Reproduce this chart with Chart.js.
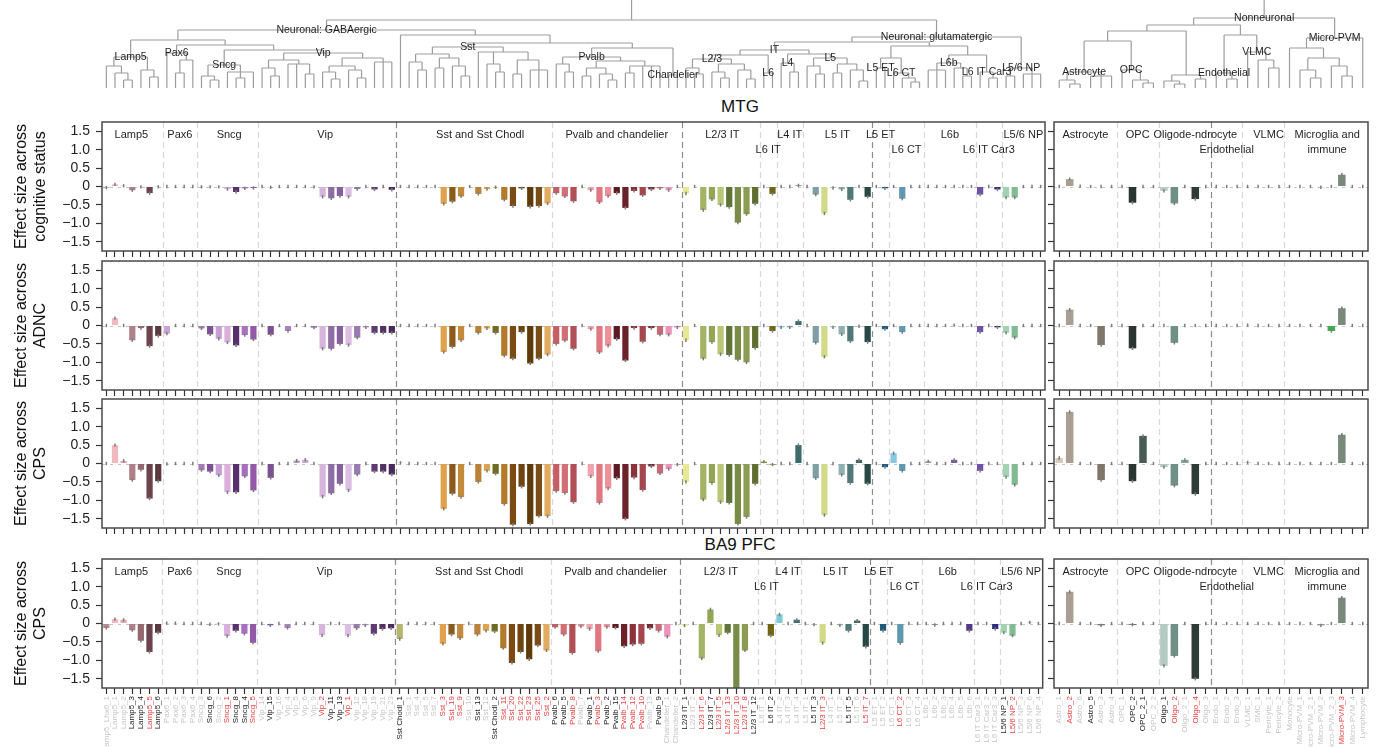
<!DOCTYPE html>
<html>
<head>
<meta charset="utf-8">
<script src="https://cdn.jsdelivr.net/npm/chart.js@4.4.1/dist/chart.umd.min.js"></script>
<style>
  body { margin: 0; background: #fff; width: 1380px; height: 747px; overflow: hidden; position: relative; font-family: 'Liberation Sans', Arial, sans-serif; }
  canvas { position: absolute; }
  .title { position: absolute; left: 640px; width: 200px; text-align: center; font-size: 17px; line-height: 20px; color: #111; }
</style>
</head>
<body>
<div class="title" style="top:97px">MTG</div>
<div class="title" style="top:535px">BA9 PFC</div>
<script>
// ---- categories ----
const NEURON_LABELS = [
  'Lamp5_Lhx6_1','Lamp5_1','Lamp5_2','Lamp5_3','Lamp5_4','Lamp5_5','Lamp5_6',
  'Pax6_1','Pax6_2','Pax6_3','Pax6_4',
  'Sncg_3','Sncg_6','Sncg_2','Sncg_1','Sncg_8','Sncg_4','Sncg_5',
  'Vip_14','Vip_15','Vip_16','Vip_4','Vip_5','Vip_6','Vip_9','Vip_2','Vip_11','Vip_13','Vip_1','Vip_12','Vip_18','Vip_19','Vip_21','Vip_23',
  'Sst Chodl_1','Sst_1','Sst_4','Sst_5','Sst_7','Sst_3','Sst_19','Sst_9','Sst_10','Sst_13','Sst_12','Sst Chodl_2','Sst_11','Sst_20','Sst_22','Sst_23','Sst_25','Sst_2',
  'Pvalb_6','Pvalb_5','Pvalb_8','Pvalb_7','Pvalb_1','Pvalb_3','Pvalb_2','Pvalb_15','Pvalb_14','Pvalb_12','Pvalb_10','Pvalb_13','Pvalb_9','Chandelier_1','Chandelier_2',
  'L2/3 IT_1','L2/3 IT_2','L2/3 IT_6','L2/3 IT_7','L2/3 IT_5','L2/3 IT_13','L2/3 IT_10','L2/3 IT_8','L2/3 IT_12',
  'L6 IT_1','L6 IT_2','L4 IT_2','L4 IT_3','L4 IT_4',
  'L5 IT_1','L5 IT_3','L2/3 IT_3','L4 IT_1','L5 IT_2','L5 IT_5','L5 IT_6','L5 IT_7',
  'L5 ET_1','L5 ET_2','L6 CT_1','L6 CT_2','L6 CT_3','L6 CT_4',
  'L6b_1','L6b_2','L6b_3','L6b_4','L6b_5','L6b_6',
  'L6 IT Car3_1','L6 IT Car3_2','L6 IT Car3_3',
  'L5/6 NP_1','L5/6 NP_2','L5/6 NP_3','L5/6 NP_6','L5/6 NP_4'
];
// r = significant (red), k = nominal (black), g = not significant (grey)
const NEURON_STATUS = ('gggkkrk' + 'gggg' + 'gkgrkkr' + 'gkgggggrkkrggggg' + 'kggggrrrgkgkrrrrrr' +
  'kkrgkrkkrrrgkgg' + 'kgrkrrrrk' + 'gkggg' + 'gkrggkgr' + 'gggrgg' + 'gggggg' + 'ggg' + 'krggg').split('');
const NEURON_COLORS = [
  '#b58a8a','#f2b8c0','#e9a3ad','#b0808a','#94686e','#6b434a','#5a3a40',
  '#c9a3d6','#b9a0c8','#a98fc0','#9c82b4',
  '#a77bb5','#7c4f96','#c89fd4','#d9b0dc','#5a2f6e','#a96fbf','#9159a8',
  '#c6a0d0','#7a5191','#b48cc4','#a784bd','#b995c9','#c7a9d6','#9d78b0','#d6b4dc','#8e6ca4','#85609c','#dbbfe2','#9a78b0','#b08ac0','#5f3b74','#533066','#4a2a5e',
  '#b5b56e','#d9aa6a','#c89a5a','#b7894a','#a67a3e','#e0a24d','#8a5a1c','#c58b3d','#d29a4c','#b98238','#dba552','#6e6b22','#b37a2c','#7a4a12','#6e4510','#5e3a08','#7a4b14','#e2ac60',
  '#c45f66','#d26f76','#b24e56','#e88b92','#f2a3aa','#df7881','#ee9098','#5e1a22','#6b2128','#8c323a','#a5464e','#7a2a32','#c56878','#e994b8','#e576a8',
  '#e6e896','#cfd68a','#a3b464','#93a656','#bac575','#5f7537','#788c47','#8c9c52','#5d6e2e',
  '#8e8a2a','#6e6616','#7fcad4','#73b1b8','#3d6b6b',
  '#86a9ae','#7e9fa6','#d0da88','#a6c8c8','#8fb1b1','#4f7878','#3e6666','#284846',
  '#184e6e','#1f5a7a','#86c8e2','#5f98b0','#72a9c0','#82b3c8',
  '#b092c8','#9a7cb8','#8a6aa8','#7a5aa0','#684896','#56368a',
  '#6f52a8','#5e44a0','#2e2e80',
  '#a2d2b2','#82ba94','#92c4a2','#a4ccb4','#72a284'
];
const GLIA_LABELS = [
  'Astro_1','Astro_2','Astro_6','Astro_5','Astro_3','Astro_4',
  'OPC_1','OPC_2','OPC_2_1','OPC_2_2',
  'Oligo_1','Oligo_2','Oligo_2_1','Oligo_4','Oligo_3',
  'Endo_1','Endo_2','Endo_3','VLMC_1','SMC_1','Pericyte_1','Pericyte_2',
  'Monocyte','Micro-PVM_1','Micro-PVM_2_1','Micro-PVM_2','Micro-PVM_2_3','Micro-PVM_3','Micro-PVM_4','Lymphocyte'
];
const GLIA_STATUS = ('grgkgg' + 'gkkg' + 'krgrg' + 'gggggggggggg' + 'rgg').split('');
const GLIA_COLORS = [
  '#d9c9b9','#a89f92','#c2b8aa','#8a8272','#7e776a','#b3aa9a',
  '#566660','#2b3632','#485b56','#63746e',
  '#b4cbc4','#6f8f87','#7fa198','#2f3b37','#93aaa2',
  '#b8b8b8','#a8a8a8','#989898','#c0c0c0','#b0b0b0','#a0a0a0','#909090',
  '#a8b0a8','#98a898','#88a088','#909890','#3fae4f','#7a8a7a','#8a9a8a','#a0a0a0'
];

// ---- effect sizes ----
const COG_NEURON = [
  -0.03, 0.06, 0.02, -0.1, -0.01, -0.18, -0.01,
  0, 0, 0, 0,
  -0.01, -0.01, -0.01, -0.07, -0.15, -0.05, -0.04,
  0, -0.02, 0, 0, 0, 0, -0.01, -0.28, -0.32, -0.26, -0.28, -0.07, 0, -0.08, 0, -0.09,
  0, 0, 0, 0, 0, -0.47, -0.41, -0.27, 0, -0.2, -0.07, -0.02, -0.36, -0.53, -0.05, -0.55, -0.53, -0.46,
  -0.18, -0.27, -0.4, 0, -0.1, -0.43, -0.26, -0.18, -0.58, -0.12, -0.24, -0.08, -0.05, -0.1, 0,
  -0.19, 0, -0.64, -0.35, -0.5, -0.56, -0.98, -0.75, -0.47,
  0, -0.2, 0, 0, 0.03,
  0, -0.22, -0.73, -0.04, -0.08, -0.36, 0, -0.28,
  0, -0.05, 0, -0.33, 0, 0,
  0, 0, 0, 0, 0, 0,
  -0.22, 0, -0.08,
  -0.3, -0.3, 0, 0, 0
];
const COG_GLIA = [0, 0.2, 0.01, 0, 0, 0, 0, -0.44, 0, 0, -0.12, -0.46, 0, -0.34, 0, 0, 0, 0, 0, 0, 0, 0, 0, 0, 0, -0.02, 0, 0.32, 0, 0];

const ADNC_NEURON = [
  0, 0.2, 0, -0.4, -0.07, -0.56, -0.28,
  -0.22, 0, 0, 0,
  -0.08, -0.24, -0.36, -0.46, -0.54, -0.26, -0.38,
  0, -0.25, 0, -0.15, 0, 0, -0.06, -0.63, -0.63, -0.5, -0.53, -0.33, -0.05, -0.2, -0.2, -0.2,
  0, 0, 0, 0, 0, -0.72, -0.58, -0.4, 0, -0.2, -0.08, -0.2, -0.82, -0.9, -0.18, -1.03, -0.9, -0.79,
  -0.5, -0.41, -0.63, 0, -0.1, -0.73, -0.55, -0.37, -0.95, -0.07, -0.44, -0.07, -0.25, -0.25, -0.05,
  -0.4, 0, -0.9, -0.45, -0.78, -0.8, -0.93, -1.0, -0.61,
  0, -0.15, -0.05, -0.05, 0.12,
  0, -0.47, -0.85, -0.05, -0.24, -0.43, -0.02, -0.45,
  0, -0.1, 0, -0.18, 0, 0,
  0, 0, 0, 0.01, 0, 0,
  -0.18, 0, -0.05,
  -0.2, -0.33, 0, 0, 0
];
const ADNC_GLIA = [0, 0.43, 0, 0, -0.53, 0, 0, -0.62, 0, 0, 0, -0.47, 0, 0, 0, 0, 0, 0, 0.01, 0, 0, 0, 0, 0, 0, 0, -0.15, 0.47, 0, 0];

const CPS_NEURON = [
  0, 0.5, 0.07, -0.45, -0.17, -0.95, -0.48,
  -0.01, 0, 0, 0,
  -0.18, -0.22, -0.32, -0.78, -0.78, -0.35, -0.73,
  0, -0.39, 0, 0, 0.08, 0.1, 0, -0.9, -0.81, -0.55, -0.73, -0.3, 0, -0.22, -0.22, -0.3,
  0.02, 0, 0, 0, 0, -1.23, -0.82, -0.91, 0, -0.5, -0.2, -0.28, -1.1, -1.66, -0.63, -1.64, -1.43, -1.43,
  -0.75, -0.8, -1.05, 0, -0.35, -1.07, -0.68, -0.4, -1.5, -0.38, -0.72, -0.08, -0.27, -0.15, -0.03,
  -0.5, 0, -0.98, -0.53, -1.05, -1.07, -1.64, -1.45, -0.55,
  0.05, -0.03, 0, 0, 0.5,
  0, -0.4, -1.4, 0, -0.31, -0.53, 0.1, -0.55,
  0, -0.1, 0.28, -0.2, 0, 0,
  0.06, 0, 0, 0.1, 0, 0,
  -0.2, 0, 0,
  -0.37, -0.58, 0, 0, 0
];
const CPS_GLIA = [0.15, 1.4, 0, 0, -0.45, 0, 0, -0.48, 0.75, 0, -0.1, -0.6, 0.1, -0.83, 0, 0, 0, 0, 0.03, 0, 0, 0, 0, 0, 0, 0, 0, 0.78, 0, 0];

const PFC_NEURON = [
  -0.12, 0.12, 0.1, -0.18, -0.47, -0.77, -0.25,
  0.01, 0.01, 0, 0,
  0, -0.02, -0.01, -0.34, -0.2, -0.28, -0.52,
  0, -0.05, 0, -0.12, 0, 0, 0, -0.32, 0, 0, -0.33, -0.13, -0.05, -0.28, -0.15, -0.13,
  -0.42, 0, 0, 0, 0, -0.55, -0.3, -0.4, 0, -0.3, -0.2, -0.22, -0.67, -1.07, -0.77, -0.97, -0.6, -0.73,
  -0.1, -0.3, -0.8, -0.08, -0.15, -0.75, -0.1, -0.12, -0.62, -0.57, -0.55, -0.13, -0.2, -0.36, 0,
  -0.06, 0, -0.95, 0.38, -0.32, -0.25, -1.75, -0.73, 0,
  0, -0.33, 0.25, 0, 0.1,
  0, -0.03, -0.53, 0, -0.05, -0.2, 0.08, -0.63,
  0, -0.2, 0, -0.53, 0, 0,
  0, -0.04, 0, 0, 0, -0.2,
  0, 0, -0.15,
  -0.25, -0.33, 0, 0.03, 0
];
const PFC_GLIA = [0, 0.86, 0, 0, -0.05, 0, 0, -0.03, 0, 0, -1.15, -0.88, 0, -1.5, 0, 0, 0, 0, 0, 0, 0, 0, 0, 0, 0, -0.05, 0, 0.7, 0, 0];

// ---- axes / annotations ----
const Y_TICKS = [-1.5, -1, -0.5, 0, 0.5, 1, 1.5];
const Y_TICK_LABELS = ['\u22121.5', '\u22121.0', '\u22120.5', '0', '0.5', '1.0', '1.5'];
const ROW_TITLES = [
  ['Effect size across', 'cognitive status'],
  ['Effect size across', 'ADNC'],
  ['Effect size across', 'CPS'],
  ['Effect size across', 'CPS']
];
const NEURON_GROUP_NAMES = ['Lamp5','Pax6','Sncg','Vip','Sst and Sst Chodl','Pvalb and chandelier','L2/3 IT','L6 IT','L4 IT','L5 IT','L5 ET','L6 CT','L6b','L6 IT Car3','L5/6 NP'];
const NEURON_GROUP_AT = [2.9, 8.5, 14.2, 25.3, 43.2, 59, 71.2, 76.5, 79, 84.5, 89.5, 92.5, 97.5, 102, 106];
const NEURON_GROUP_LINE = [0, 0, 0, 0, 0, 0, 0, 1, 0, 0, 0, 1, 0, 1, 0];
const NEURON_BOUNDS = [6.5, 10.5, 17.5, 33.5, 51.5, 66.5, 75.5, 77.5, 80.5, 88.5, 90.5, 94.5, 100.5, 103.5];
const NEURON_BOUND_DARK = [0, 0, 0, 1, 0, 1, 0, 0, 0, 1, 0, 0, 0, 0];
const GLIA_GROUP_NAMES = ['Astrocyte', 'OPC', 'Oligode-ndrocyte', 'Endothelial', 'VLMC', 'Microglia and', 'immune'];
const GLIA_GROUP_AT = [2.5, 7.5, 13, 16, 20, 25.6, 25.6];
const GLIA_GROUP_LINE = [0, 0, 0, 1, 0, 0, 1];
const GLIA_BOUNDS = [5.5, 9.5, 14.5, 17.5, 21.5];
const GLIA_BOUND_DARK = [0, 0, 1, 0, 0];

// ---- dendrograms (merge heights, leaves in category order) ----
const N = (h, label, ...kids) => ({ h, label, kids });
const o = 0;
const LAMP5_T = N(31, 'Lamp5', N(22, '', o, N(15, '', o, N(8, '', o, o))), N(18, '', o, N(11, '', o, o)));
const PAX6_T = N(35, 'Pax6', o, N(28, '', N(15, '', o, o), o));
const SNCG_T = N(23, 'Sncg', N(12, '', o, N(8, '', o, o)), N(16, '', o, N(10, '', o, o), o));
const VIP_T = N(35, 'Vip', N(28, '', N(20, '', o, N(12, '', o, o)), N(24, '', o, o, N(14, '', o, o))),
  N(30, '', N(22, '', N(16, '', o, N(9, '', o, o)), N(18, '', o, N(10, '', o, o))), N(26, '', o, o, o)));
const SST_T = N(41, 'Sst', N(34, '', N(26, '', o, N(18, '', o, o)), N(30, '', N(20, '', o, o), N(22, '', o, N(12, '', o, o)))),
  N(36, '', o, N(24, '', o, N(16, '', o, o)), N(28, '', N(14, '', o, o), N(18, '', o, o, o))));
const PVALB_T = N(31, 'Pvalb', N(24, '', o, N(16, '', o, o)),
  N(27, '', N(20, '', N(12, '', o, o), N(14, '', o, N(8, '', o, o))), N(22, '', N(15, '', o, o), o, o, o)));
const CHAND_T = N(13, 'Chandelier', o, o);
const L23_T = N(29, 'L2/3', N(20, '', o, N(14, '', o, o)), N(24, '', N(16, '', o, N(10, '', o, o)), N(18, '', o, N(9, '', o, o))));
const L6IT_T = N(15, 'L6', o, o);
const L4_T = N(25, 'L4', o, N(16, '', o, o));
const L5IT_T = N(30, 'L5', N(22, '', o, N(14, '', o, o)), N(24, '', N(15, '', o, o), N(18, '', o, N(7, '', o, o))));
const L5ET_T = N(20, 'L5 ET', o, o);
const L6CT_T = N(15, 'L6 CT', o, N(10, '', o, N(6, '', o, o)));
const L6B_T = N(25, 'L6b', N(18, '', o, o, o), N(20, '', o, N(12, '', o, o)));
const CAR3_T = N(16, 'L6 IT Car3', o, N(10, '', o, o));
const NP_T = N(20, 'L5/6 NP', N(12, '', o, o), N(14, '', o, o, o));
const NEURON_TREE = N(68, '',
  N(58, 'Neuronal: GABAergic',
    N(48, '', LAMP5_T, N(43, '', PAX6_T, N(38, '', SNCG_T, VIP_T))),
    N(53, '', o, N(45, '', SST_T, N(40, '', PVALB_T, CHAND_T)))),
  N(51, 'Neuronal: glutamatergic',
    N(46, '', N(38, 'IT', N(33, '', L23_T, L6IT_T), N(34, '', L4_T, L5IT_T)),
      N(42, '', N(30, '', L5ET_T, L6CT_T), N(33, '', L6B_T, CAR3_T))),
    NP_T));
const GLIA_TREE = N(70, 'Nonneuronal',
  N(63, '',
    N(57, '', N(47, '', N(16, 'Astrocyte', N(8, '', o, N(4, '', o, o)), N(12, '', o, o, o)), N(18, 'OPC', o, N(8, '', o, N(5, '', o, o)))),
      N(13, '', N(7, '', o, N(4, '', o, o)), N(9, '', o, o))),
    N(53, '', N(15, 'Endothelial', o, N(9, '', o, o)), N(36, 'VLMC', o, N(28, '', o, N(20, '', o, o))))),
  N(50, 'Micro-PVM', N(40, '', o, N(30, '', N(18, '', o, N(10, '', o, o)), N(22, '', o, N(12, '', o, o)))), o));

const STATUS_COLOR = { r: '#e8403f', k: '#1a1a1a', g: '#c6c6c6' };
const ERR = 0.045;
const ROW_TOPS = [122, 261, 399, 559];
const PLOT_H = 129;
const PAD = 15;

Chart.defaults.font.family = "'Liberation Sans', Arial, sans-serif";
Chart.defaults.color = '#1f1f1f';

function addCanvas(left, top, w, h) {
  const c = document.createElement('canvas');
  c.width = w; c.height = h;
  c.style.left = left + 'px'; c.style.top = top + 'px';
  c.style.width = w + 'px'; c.style.height = h + 'px';
  document.body.appendChild(c);
  return c;
}

const decoPlugin = {
  id: 'deco',
  beforeDatasetsDraw(chart, args, opts) {
    const { ctx, chartArea: a, scales: { x, y } } = chart;
    ctx.save();
    ctx.lineWidth = 1.2;
    opts.bounds.forEach((b, k) => {
      const px = Math.round(x.getPixelForValue(b)) + 0.5;
      ctx.strokeStyle = opts.dark[k] ? '#8c8c8c' : '#d8d8d8';
      ctx.setLineDash([6, 4]);
      ctx.beginPath(); ctx.moveTo(px, a.top); ctx.lineTo(px, a.bottom); ctx.stroke();
    });
    const y0 = Math.round(y.getPixelForValue(0)) + 0.5;
    ctx.strokeStyle = '#c4c4c4'; ctx.lineWidth = 1; ctx.setLineDash([3, 5]);
    ctx.beginPath(); ctx.moveTo(a.left, y0); ctx.lineTo(a.right, y0); ctx.stroke();
    ctx.restore();
  },
  afterDatasetsDraw(chart, args, opts) {
    const { ctx, chartArea: a, scales: { y } } = chart;
    const values = chart.data.datasets[0].data;
    ctx.save();
    ctx.beginPath(); ctx.rect(a.left, a.top, a.right - a.left, a.bottom - a.top); ctx.clip();
    ctx.strokeStyle = '#7b7b7b'; ctx.lineWidth = 1.5;
    chart.getDatasetMeta(0).data.forEach((bar, i) => {
      const v = values[i];
      ctx.beginPath();
      ctx.moveTo(bar.x, y.getPixelForValue(v - ERR));
      ctx.lineTo(bar.x, y.getPixelForValue(v + ERR));
      ctx.stroke();
    });
    ctx.restore();
    ctx.save();
    ctx.strokeStyle = '#4a4a4a'; ctx.lineWidth = 1.5;
    ctx.strokeRect(a.left, a.top, a.right - a.left, a.bottom - a.top);
    if (opts.names) {
      const x = chart.scales.x;
      ctx.fillStyle = '#1f1f1f';
      ctx.font = "11px 'Liberation Sans', Arial, sans-serif";
      ctx.textAlign = 'center'; ctx.textBaseline = 'middle';
      opts.names.forEach((t, k) => {
        ctx.fillText(t, x.getPixelForValue(opts.at[k]), a.top + (opts.line[k] ? 28 : 12.5));
      });
    }
    ctx.restore();
  }
};

function panel(p) {
  const canvas = addCanvas(p.left, p.top, p.width, p.height);
  new Chart(canvas, {
    type: 'bar',
    data: {
      labels: p.labels,
      datasets: [{ data: p.values, backgroundColor: p.colors, barPercentage: 0.72, categoryPercentage: 1 }]
    },
    plugins: [decoPlugin],
    options: {
      responsive: false, animation: false, devicePixelRatio: 1,
      layout: { padding: { left: 0, right: p.padRight, top: PAD, bottom: 0 } },
      plugins: {
        legend: { display: false }, tooltip: { enabled: false },
        deco: { bounds: p.bounds, dark: p.dark, names: p.names, at: p.at, line: p.line }
      },
      scales: {
        x: {
          type: 'category',
          border: { display: false },
          grid: { offset: false, drawOnChartArea: false, tickLength: 6, tickColor: '#333', tickWidth: 1.2 },
          ticks: {
            display: p.showX, autoSkip: false, minRotation: 90, maxRotation: 90, padding: 2,
            font: { size: 8 },
            color: (c) => STATUS_COLOR[p.status[c.index]]
          },
          afterFit: (s) => { s.height = p.xHeight; }
        },
        y: {
          min: -1.75, max: 1.75,
          border: { display: false },
          afterBuildTicks: (s) => { s.ticks = Y_TICKS.map(v => ({ value: v })); },
          grid: { drawOnChartArea: false, tickLength: 6, tickColor: '#333', tickWidth: 1.2 },
          ticks: {
            padding: 6, font: { size: 14 }, color: '#222',
            callback: (v) => p.yTitle ? Y_TICK_LABELS[Y_TICKS.indexOf(v)] : ''
          },
          title: p.yTitle ? { display: true, text: p.yTitle, font: { size: 16 }, color: '#111', padding: { top: 12, bottom: 0 } } : { display: false },
          afterFit: (s) => { s.width = p.yWidth; }
        }
      }
    }
  });
}

const ROWS = [
  [COG_NEURON, COG_GLIA], [ADNC_NEURON, ADNC_GLIA], [CPS_NEURON, CPS_GLIA], [PFC_NEURON, PFC_GLIA]
];
ROWS.forEach(([nv, gv], r) => {
  const last = r === 3;
  const xh = last ? 747 - (ROW_TOPS[r] + PLOT_H) : PAD;
  const withNames = r === 0 || r === 3;
  panel({
    left: 0, top: ROW_TOPS[r] - PAD, width: 1050, height: PAD + PLOT_H + xh,
    labels: NEURON_LABELS, status: NEURON_STATUS, colors: NEURON_COLORS, values: nv,
    yTitle: ROW_TITLES[r], yWidth: 102, padRight: 5, xHeight: xh, showX: last,
    bounds: NEURON_BOUNDS, dark: NEURON_BOUND_DARK,
    names: withNames ? NEURON_GROUP_NAMES : null, at: NEURON_GROUP_AT, line: NEURON_GROUP_LINE
  });
  panel({
    left: 1044, top: ROW_TOPS[r] - PAD, width: 336, height: PAD + PLOT_H + xh,
    labels: GLIA_LABELS, status: GLIA_STATUS, colors: GLIA_COLORS, values: gv,
    yTitle: null, yWidth: 10, padRight: 12, xHeight: xh, showX: last,
    bounds: GLIA_BOUNDS, dark: GLIA_BOUND_DARK,
    names: withNames ? GLIA_GROUP_NAMES : null, at: GLIA_GROUP_AT, line: GLIA_GROUP_LINE
  });
});

// ---- dendrograms ----
const TOP_H = 88;
function layoutTree(tree) {
  const segs = [], labels = [];
  let next = 0;
  function walk(node) {
    if (node === 0) return { x: next++, h: 0 };
    const kids = node.kids.map(walk);
    const x0 = kids[0].x, x1 = kids[kids.length - 1].x;
    kids.forEach(k => segs.push({ x: k.x, y: k.h }, { x: k.x, y: node.h }, { x: k.x, y: null }));
    segs.push({ x: x0, y: node.h }, { x: x1, y: node.h }, { x: x1, y: null });
    const x = (x0 + x1) / 2;
    if (node.label) labels.push({ x, h: node.h, text: node.label });
    return { x, h: node.h };
  }
  const root = walk(tree);
  segs.push({ x: root.x, y: root.h }, { x: root.x, y: TOP_H });
  return { segs, labels };
}

const dendroLabels = {
  id: 'dendroLabels',
  afterDatasetsDraw(chart, args, opts) {
    const { ctx, scales: { x, y } } = chart;
    ctx.save();
    ctx.fillStyle = '#1f1f1f';
    ctx.font = "10.5px 'Liberation Sans', Arial, sans-serif";
    ctx.textAlign = 'center'; ctx.textBaseline = 'middle';
    opts.items.forEach(l => ctx.fillText(l.text, x.getPixelForValue(l.x), y.getPixelForValue(l.h)));
    ctx.restore();
  }
};

function dendrogram(tree, nLeaves, padLeft, padRight) {
  const { segs, labels } = layoutTree(tree);
  const canvas = addCanvas(0, 0, 1380, 92);
  new Chart(canvas, {
    type: 'scatter',
    data: { datasets: [{ data: segs, showLine: true, spanGaps: false, pointRadius: 0, borderColor: '#9d9d9d', borderWidth: 1.2 }] },
    plugins: [dendroLabels],
    options: {
      responsive: false, animation: false, devicePixelRatio: 1,
      layout: { padding: { left: padLeft, right: padRight, top: 0, bottom: 4 } },
      plugins: { legend: { display: false }, tooltip: { enabled: false }, dendroLabels: { items: labels } },
      scales: {
        x: { type: 'linear', display: false, min: -0.5, max: nLeaves - 0.5 },
        y: { type: 'linear', display: false, min: 0, max: TOP_H }
      }
    }
  });
}
dendrogram(NEURON_TREE, NEURON_LABELS.length, 102, 335);
dendrogram(GLIA_TREE, GLIA_LABELS.length, 1054, 12);
</script>
</body>
</html>
